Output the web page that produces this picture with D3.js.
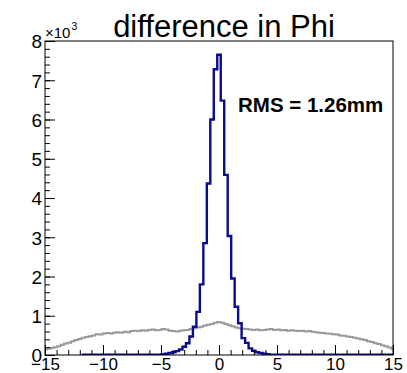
<!DOCTYPE html>
<html>
<head>
<meta charset="utf-8">
<script src="https://cdn.jsdelivr.net/npm/d3@7"></script>
<style>
  body { margin: 0; background: #fff; }
  svg { display: block; font-family: "Liberation Sans", Arial, sans-serif; }
</style>
</head>
<body>
<svg width="407" height="373"></svg>
<script>
// bin centres, 0.3 wide, from -15 to 15
var binCenters = d3.range(-50, 51).map(function(k) { return +(k * 0.3).toFixed(2); });

// counts in units of 10^3
var grayCounts = [
  0.14, 0.16, 0.18, 0.20, 0.22, 0.26, 0.29, 0.31, 0.35, 0.38,
  0.41, 0.44, 0.46, 0.48, 0.50, 0.53, 0.52, 0.55, 0.56, 0.55,
  0.57, 0.58, 0.57, 0.59, 0.58, 0.61, 0.62, 0.61, 0.63, 0.62,
  0.64, 0.65, 0.63, 0.64, 0.66, 0.65, 0.62, 0.61, 0.60, 0.62,
  0.63, 0.64, 0.66, 0.68, 0.70, 0.72, 0.75, 0.77, 0.79, 0.82,
  0.84,
  0.82, 0.79, 0.76, 0.73, 0.70, 0.68, 0.67, 0.66, 0.65, 0.64,
  0.65, 0.63, 0.64, 0.65, 0.66, 0.64, 0.65, 0.63, 0.64, 0.62,
  0.63, 0.62, 0.61, 0.62, 0.60, 0.61, 0.59, 0.58, 0.57, 0.56,
  0.55, 0.54, 0.53, 0.52, 0.50, 0.49, 0.47, 0.46, 0.44, 0.42,
  0.40, 0.38, 0.35, 0.33, 0.30, 0.28, 0.25, 0.22, 0.19, 0.16
];

var blueCounts = [
  null, null, null, null, null, null, null, null, null, null,
  null, 0.005, 0.005, 0.005, 0.005, 0.005, 0.005, 0.005, 0.005, 0.005,
  0.005, 0.005, 0.005, 0.005, 0.005, 0.005, 0.005, 0.005, 0.005, 0.005,
  0.005, 0.005, 0.005, 0.01, 0.02, 0.03, 0.05, 0.07, 0.10, 0.14,
  0.21, 0.30, 0.47, 0.72, 1.10, 1.80, 2.85, 4.37, 6.00, 7.28,
  7.65,
  6.48, 4.59, 3.03, 1.95, 1.23, 0.81, 0.43, 0.31, 0.17, 0.11,
  0.07, 0.05, 0.03, 0.02, 0.01, 0.005, 0.005, 0.005, 0.005, 0.005,
  0.005, 0.005, 0.005, 0.005, 0.005, 0.005, 0.005, 0.005, 0.005, 0.005,
  0.005, 0.005, 0.005, 0.005, 0.005, 0.005, 0.005, 0.005, 0.005, 0.005,
  0.005, 0.005, 0.005, 0.005, 0.005, 0.005, 0.005, 0.005, 0.005, 0.005
];

var xTicks = [-15, -10, -5, 0, 5, 10, 15];
var yTicks = [0, 1, 2, 3, 4, 5, 6, 7, 8];

(function() {
var svg = d3.select("svg"),
    fLeft = 45, fRight = 393, fTop = 41, fBottom = 355;

var x = d3.scaleLinear().domain([-15, 15]).range([fLeft, fRight]);
var y = d3.scaleLinear().domain([0, 8]).range([fBottom, fTop]);
var half = 0.15;

svg.append("defs").append("clipPath").attr("id", "frame")
  .append("rect")
    .attr("x", fLeft).attr("y", fTop - 2)
    .attr("width", fRight - fLeft).attr("height", fBottom - fTop + 2);

// step outline: one point per bin low edge, plus the last high edge
function steps(counts) {
  var pts = [];
  binCenters.forEach(function(c, i) {
    if (counts[i] == null) return;
    pts.push([c - half, counts[i]]);
  });
  var last = pts[pts.length - 1];
  pts.push([last[0] + 2 * half, last[1]]);
  return pts;
}

var line = d3.line()
    .x(function(d) { return x(Math.max(-15, Math.min(15, d[0]))); })
    .y(function(d) { return y(d[1]); })
    .curve(d3.curveStepAfter);

var plot = svg.append("g").attr("clip-path", "url(#frame)");

plot.append("path")
    .attr("d", line(steps(grayCounts)))
    .attr("fill", "none")
    .attr("stroke", "#9a9a9a")
    .attr("stroke-width", 2);

plot.append("path")
    .attr("d", line(steps(blueCounts)))
    .attr("fill", "none")
    .attr("stroke", "#0b0b8f")
    .attr("stroke-width", 2.4);

// minor ticks
svg.append("g")
    .attr("transform", "translate(0," + fBottom + ")")
    .call(d3.axisBottom(x).tickValues(d3.range(-15, 16, 1)).tickSize(-5).tickFormat(""))
    .call(function(g) { g.select(".domain").remove(); });
svg.append("g")
    .attr("transform", "translate(" + fLeft + ",0)")
    .call(d3.axisLeft(y).tickValues(d3.range(0, 8.01, 0.2)).tickSize(-5).tickFormat(""))
    .call(function(g) { g.select(".domain").remove(); });

// major ticks and labels
var xAxis = svg.append("g")
    .attr("transform", "translate(0," + fBottom + ")")
    .call(d3.axisBottom(x).tickValues(xTicks).tickSize(-10).tickPadding(3)
      .tickFormat(function(d) { return d < 0 ? "\u2212" + (-d) : d; }));
xAxis.select(".domain").remove();
xAxis.selectAll("text").attr("font-size", 17).attr("font-family", null).attr("fill", "#000");

var yAxis = svg.append("g")
    .attr("transform", "translate(" + fLeft + ",0)")
    .call(d3.axisLeft(y).tickValues(yTicks).tickSize(-10).tickPadding(3));
yAxis.select(".domain").remove();
yAxis.selectAll("text").attr("font-size", 19).attr("font-family", null)
    .attr("fill", "#000").attr("dy", "0.36em");

svg.selectAll(".tick line").attr("stroke", "#000");

// frame
svg.append("rect")
    .attr("x", fLeft).attr("y", fTop)
    .attr("width", fRight - fLeft).attr("height", fBottom - fTop)
    .attr("fill", "none").attr("stroke", "#000").attr("stroke-width", 1);

// exponent
svg.append("text")
    .attr("x", 45).attr("y", 38)
    .attr("font-size", 15)
    .text("\u00d710");
svg.append("text")
    .attr("x", 71.5).attr("y", 30)
    .attr("font-size", 10.5)
    .text("3");

// title
svg.append("text")
    .attr("x", 224).attr("y", 37)
    .attr("text-anchor", "middle")
    .attr("font-size", 31)
    .text("difference in Phi");

svg.append("text")
    .attr("x", 238).attr("y", 112)
    .attr("font-size", 20.5)
    .attr("font-weight", "bold")
    .text("RMS = 1.26mm");
})();
</script>
</body>
</html>
